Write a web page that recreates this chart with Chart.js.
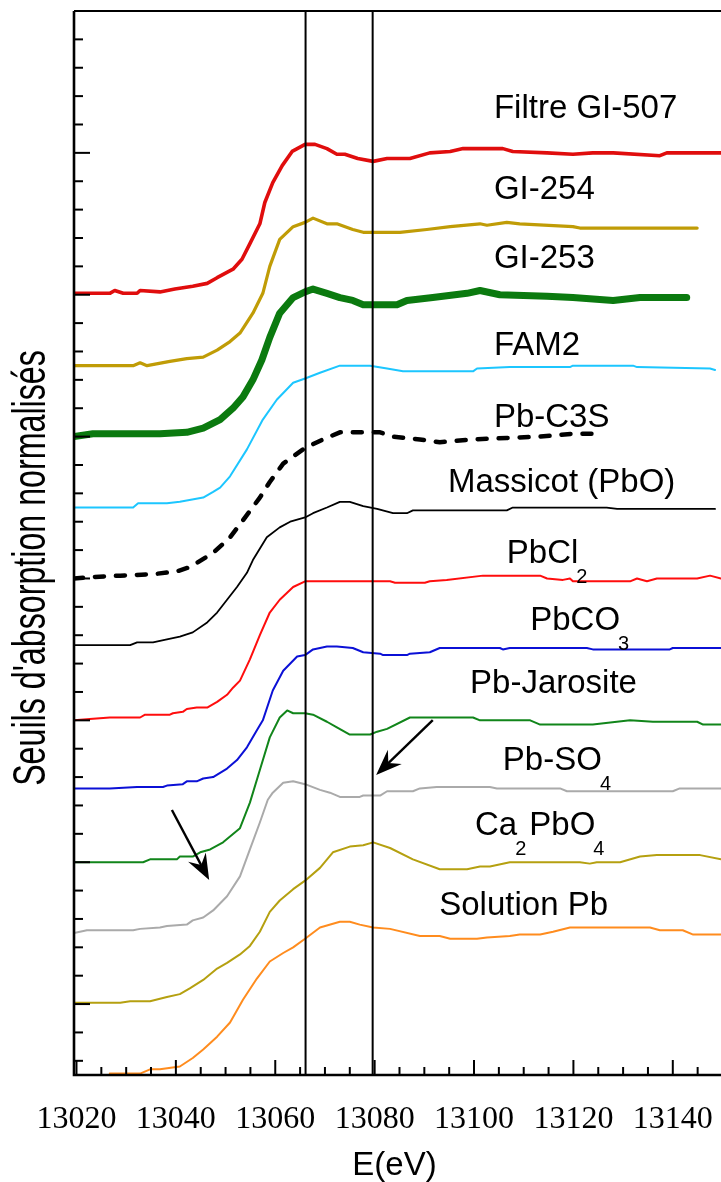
<!DOCTYPE html>
<html>
<head>
<meta charset="utf-8">
<script src="https://cdn.jsdelivr.net/npm/chart.js@4.4.1/dist/chart.umd.min.js"></script>
<style>
  html, body { margin: 0; padding: 0; background: #fff; }
</style>
</head>
<body>
<canvas id="xanesChart" width="721" height="1182"></canvas>
<script>
// --- data (energy in eV, normalised absorption + offset) ---
const filtreE = [13019.5, 13026.7, 13027.7, 13029.4, 13032.2, 13032.8, 13036.8, 13039.8, 13043.4, 13046.3, 13048.3, 13051.5, 13053.3, 13054.9, 13056.9, 13057.9, 13059.5, 13061.4, 13063.4, 13066.0, 13068.0, 13070.4, 13072.4, 13074.0, 13076.6, 13079.7, 13082.5, 13087.1, 13091.1, 13095.2, 13097.8, 13105.8, 13107.8, 13114.7, 13119.9, 13123.9, 13128.0, 13137.4, 13138.8, 13149.7];
const filtreY = [5.51, 5.51, 5.53, 5.51, 5.51, 5.53, 5.52, 5.54, 5.56, 5.58, 5.62, 5.68, 5.75, 5.86, 6.00, 6.15, 6.29, 6.41, 6.51, 6.56, 6.56, 6.53, 6.49, 6.49, 6.46, 6.44, 6.46, 6.46, 6.50, 6.51, 6.53, 6.53, 6.51, 6.50, 6.49, 6.50, 6.50, 6.48, 6.50, 6.50];

const gi254E = [13019.5, 13031.4, 13032.8, 13034.2, 13038.8, 13042.2, 13045.5, 13048.3, 13050.9, 13052.9, 13055.5, 13057.5, 13058.9, 13060.9, 13063.6, 13066.0, 13067.6, 13070.4, 13072.4, 13075.6, 13077.7, 13082.5, 13085.1, 13090.5, 13095.2, 13101.2, 13102.6, 13106.6, 13109.2, 13119.9, 13121.3, 13144.9];
const gi254Y = [5.00, 5.00, 5.02, 5.00, 5.03, 5.05, 5.06, 5.11, 5.17, 5.23, 5.37, 5.51, 5.70, 5.89, 5.98, 6.01, 6.04, 6.00, 6.00, 5.96, 5.94, 5.94, 5.94, 5.96, 5.98, 6.00, 5.99, 6.01, 6.00, 5.98, 5.97, 5.97];

const gi253E = [13019.5, 13023.3, 13036.8, 13042.2, 13045.5, 13048.9, 13051.5, 13053.5, 13055.5, 13057.3, 13058.9, 13060.9, 13063.6, 13066.0, 13067.6, 13070.4, 13073.0, 13075.6, 13077.7, 13084.5, 13086.5, 13089.1, 13091.7, 13098.6, 13101.2, 13105.2, 13114.7, 13119.9, 13128.0, 13133.4, 13142.8];
const gi253Y = [4.50, 4.52, 4.52, 4.53, 4.56, 4.62, 4.70, 4.78, 4.90, 5.04, 5.20, 5.37, 5.48, 5.52, 5.54, 5.51, 5.48, 5.46, 5.43, 5.43, 5.46, 5.47, 5.48, 5.51, 5.53, 5.50, 5.49, 5.48, 5.46, 5.48, 5.48];

const fam2E = [13019.5, 13031.4, 13032.4, 13038.2, 13040.8, 13045.5, 13047.5, 13048.9, 13050.9, 13054.3, 13057.5, 13060.3, 13063.6, 13066.0, 13069.0, 13073.0, 13079.1, 13082.5, 13085.7, 13099.8, 13100.6, 13107.2, 13119.3, 13119.9, 13132.0, 13132.8, 13147.5, 13148.5];
const fam2Y = [4.00, 4.00, 4.03, 4.03, 4.04, 4.07, 4.11, 4.14, 4.22, 4.41, 4.62, 4.76, 4.88, 4.91, 4.95, 5.00, 5.00, 4.98, 4.96, 4.96, 4.98, 4.99, 4.99, 5.00, 5.00, 4.99, 4.98, 4.97];

const pbc3sE = [13019.5, 13023.3, 13028.8, 13035.4, 13040.2, 13042.8, 13047.5, 13050.9, 13053.5, 13056.9, 13058.9, 13061.6, 13066.0, 13069.6, 13073.0, 13077.0, 13081.1, 13083.7, 13089.1, 13093.1, 13099.8, 13106.6, 13113.3, 13119.9, 13124.0];
const pbc3sY = [3.50, 3.51, 3.52, 3.53, 3.55, 3.58, 3.68, 3.79, 3.91, 4.07, 4.18, 4.31, 4.42, 4.48, 4.53, 4.53, 4.53, 4.50, 4.48, 4.46, 4.48, 4.49, 4.50, 4.52, 4.52];

const massicotE = [13019.5, 13030.8, 13032.2, 13035.4, 13038.2, 13040.8, 13043.4, 13046.3, 13048.3, 13050.3, 13052.3, 13054.3, 13055.5, 13058.3, 13060.9, 13063.0, 13066.0, 13067.6, 13070.4, 13073.0, 13075.0, 13077.7, 13080.5, 13083.7, 13086.5, 13087.7, 13106.6, 13107.8, 13115.9, 13118.7, 13126.7, 13128.8, 13148.5];
const massicotY = [3.03, 3.03, 3.05, 3.05, 3.07, 3.09, 3.12, 3.19, 3.26, 3.35, 3.44, 3.54, 3.63, 3.79, 3.86, 3.90, 3.93, 3.96, 4.00, 4.04, 4.04, 4.01, 3.99, 3.96, 3.96, 3.98, 3.98, 4.00, 4.00, 4.00, 4.00, 3.99, 3.99];

const pbcl2E = [13019.5, 13022.7, 13026.7, 13032.8, 13033.8, 13038.8, 13039.4, 13041.4, 13042.2, 13044.2, 13046.3, 13048.3, 13050.3, 13051.5, 13052.9, 13054.9, 13056.9, 13058.9, 13060.9, 13063.6, 13066.0, 13083.1, 13084.1, 13090.1, 13091.1, 13094.5, 13101.8, 13113.3, 13114.7, 13117.9, 13119.3, 13119.9, 13131.4, 13132.8, 13134.8, 13136.8, 13144.9, 13147.5, 13149.7];
const pbcl2Y = [2.50, 2.51, 2.52, 2.52, 2.54, 2.54, 2.55, 2.56, 2.58, 2.59, 2.59, 2.63, 2.68, 2.73, 2.78, 2.93, 3.10, 3.26, 3.35, 3.44, 3.48, 3.48, 3.47, 3.47, 3.48, 3.49, 3.52, 3.52, 3.50, 3.49, 3.50, 3.48, 3.48, 3.50, 3.48, 3.50, 3.50, 3.52, 3.50];

const pbco3E = [13019.5, 13026.7, 13032.2, 13037.4, 13038.2, 13041.4, 13042.2, 13044.2, 13045.5, 13047.5, 13050.3, 13052.3, 13054.3, 13056.3, 13057.5, 13059.5, 13061.6, 13064.4, 13066.0, 13067.6, 13070.4, 13072.4, 13075.6, 13077.7, 13081.1, 13081.7, 13086.5, 13087.1, 13091.1, 13093.1, 13105.2, 13105.8, 13107.2, 13122.7, 13123.9, 13139.4, 13140.0, 13149.7];
const pbco3Y = [2.02, 2.02, 2.03, 2.03, 2.04, 2.05, 2.07, 2.07, 2.09, 2.10, 2.16, 2.22, 2.31, 2.43, 2.50, 2.71, 2.85, 2.95, 2.96, 3.00, 3.02, 3.02, 3.01, 2.98, 2.97, 2.96, 2.96, 2.97, 2.98, 3.01, 3.01, 3.00, 3.01, 3.01, 3.00, 3.00, 3.01, 3.01];

const jarositeE = [13019.5, 13033.4, 13034.8, 13040.2, 13040.8, 13043.4, 13044.9, 13046.9, 13049.5, 13052.9, 13054.9, 13056.9, 13058.9, 13060.9, 13062.4, 13063.6, 13066.0, 13067.6, 13070.4, 13072.4, 13075.0, 13079.1, 13080.5, 13082.5, 13087.1, 13099.8, 13101.2, 13111.3, 13113.3, 13123.9, 13131.4, 13136.0, 13144.9, 13146.1, 13149.7];
const jarositeY = [1.50, 1.50, 1.52, 1.52, 1.54, 1.54, 1.57, 1.59, 1.64, 1.74, 1.92, 2.15, 2.38, 2.52, 2.57, 2.55, 2.55, 2.54, 2.49, 2.45, 2.40, 2.40, 2.42, 2.44, 2.52, 2.52, 2.50, 2.50, 2.47, 2.47, 2.50, 2.49, 2.49, 2.47, 2.47];

const pbso4E = [13019.5, 13022.1, 13031.4, 13032.8, 13036.8, 13038.2, 13042.2, 13043.4, 13045.5, 13047.5, 13050.3, 13052.9, 13054.9, 13056.9, 13058.5, 13059.5, 13061.6, 13063.6, 13066.0, 13069.0, 13071.0, 13073.0, 13077.0, 13077.7, 13081.1, 13082.5, 13087.7, 13089.1, 13092.5, 13103.2, 13104.6, 13117.3, 13118.7, 13140.0, 13141.4, 13149.7];
const pbso4Y = [1.00, 1.02, 1.02, 1.03, 1.04, 1.05, 1.06, 1.09, 1.11, 1.16, 1.26, 1.40, 1.59, 1.78, 1.94, 1.99, 2.06, 2.07, 2.05, 2.01, 1.99, 1.96, 1.96, 1.97, 1.97, 2.00, 2.00, 2.02, 2.03, 2.03, 2.02, 2.02, 2.00, 2.00, 2.02, 2.02];

const ca2pbo4E = [13019.5, 13028.8, 13030.8, 13034.8, 13038.2, 13040.8, 13042.8, 13045.5, 13048.3, 13050.3, 13052.9, 13054.9, 13056.9, 13058.9, 13060.9, 13063.6, 13066.0, 13069.0, 13071.6, 13075.0, 13077.7, 13079.7, 13083.1, 13087.7, 13093.1, 13098.6, 13101.2, 13103.2, 13107.2, 13121.3, 13123.3, 13124.7, 13129.4, 13133.4, 13136.8, 13145.5, 13149.7];
const ca2pbo4Y = [0.51, 0.51, 0.52, 0.52, 0.55, 0.57, 0.61, 0.67, 0.75, 0.79, 0.85, 0.91, 1.01, 1.15, 1.23, 1.31, 1.37, 1.46, 1.57, 1.61, 1.62, 1.64, 1.60, 1.52, 1.45, 1.45, 1.47, 1.47, 1.50, 1.50, 1.49, 1.50, 1.50, 1.54, 1.55, 1.55, 1.52];

const solutionE = [13026.7, 13032.8, 13034.8, 13036.8, 13040.8, 13043.4, 13045.5, 13048.3, 13050.9, 13053.5, 13056.3, 13058.9, 13061.6, 13063.6, 13066.0, 13069.0, 13073.0, 13075.0, 13077.0, 13079.7, 13083.1, 13089.1, 13093.1, 13095.2, 13100.6, 13102.6, 13107.2, 13109.2, 13113.3, 13115.9, 13119.3, 13135.4, 13137.4, 13142.0, 13144.1, 13149.7];
const solutionY = [0.01, 0.01, 0.04, 0.04, 0.06, 0.12, 0.18, 0.27, 0.37, 0.53, 0.68, 0.80, 0.86, 0.90, 0.96, 1.04, 1.08, 1.08, 1.06, 1.04, 1.03, 0.98, 0.98, 0.96, 0.96, 0.97, 0.98, 0.99, 0.99, 1.01, 1.04, 1.04, 1.02, 1.02, 0.99, 0.99];

// reference energies (vertical lines)
const markerLines = [13066.1, 13079.6];

// axis ticks
const xTickValues = [13020, 13040, 13060, 13080, 13100, 13120, 13140];
const xTickLabels = ['13020', '13040', '13060', '13080', '13100', '13120', '13140'];

// curve labels: [text, subscript?] parts, anchored at (energy, value) of left/baseline
const curveLabels = [
    { parts: [['Filtre GI-507', false]], e: 13104.0, y: 6.746 },
    { parts: [['GI-254', false]], e: 13104.0, y: 6.175 },
    { parts: [['GI-253', false]], e: 13104.0, y: 5.688 },
    { parts: [['FAM2', false]], e: 13104.0, y: 5.075 },
    { parts: [['Pb-C3S', false]], e: 13104.0, y: 4.568 },
    { parts: [['Massicot (PbO)', false]], e: 13094.75, y: 4.109 },
    { parts: [['PbCl', false], ['2', true]], e: 13106.6, y: 3.609 },
    { parts: [['PbCO', false], ['3', true]], e: 13111.3, y: 3.137 },
    { parts: [['Pb-Jarosite', false]], e: 13099.2, y: 2.693 },
    { parts: [['Pb-SO', false], ['4', true]], e: 13105.8, y: 2.150 },
    { parts: [['Ca', false], ['2', true], ['PbO', false], ['4', true]], e: 13100.2, y: 1.692 },
    { parts: [['Solution Pb', false]], e: 13093.0, y: 1.128 }
];

// arrows: from (e0,y0) to tip (e1,y1)
const arrows = [
    { e0: 13039.2, y0: 1.868, e1: 13046.7, y1: 1.374 },
    { e0: 13091.7, y0: 2.502, e1: 13080.3, y1: 2.115 }
];

const zip = (es, ys) => es.map((e, i) => ({ x: e, y: ys[i] }));

const series = [
    { label: 'Filtre GI-507', e: filtreE, y: filtreY, color: '#e00d0d', width: 3.6 },
    { label: 'GI-254', e: gi254E, y: gi254Y, color: '#c09c06', width: 3.2 },
    { label: 'GI-253', e: gi253E, y: gi253Y, color: '#0b7a0f', width: 7 },
    { label: 'FAM2', e: fam2E, y: fam2Y, color: '#1cc6ff', width: 2 },
    { label: 'Pb-C3S', e: pbc3sE, y: pbc3sY, color: '#000000', width: 4.5, dash: [9, 12] },
    { label: 'Massicot (PbO)', e: massicotE, y: massicotY, color: '#000000', width: 1.8 },
    { label: 'PbCl2', e: pbcl2E, y: pbcl2Y, color: '#ff0d0d', width: 2 },
    { label: 'PbCO3', e: pbco3E, y: pbco3Y, color: '#0b10d6', width: 2 },
    { label: 'Pb-Jarosite', e: jarositeE, y: jarositeY, color: '#11851a', width: 2 },
    { label: 'Pb-SO4', e: pbso4E, y: pbso4Y, color: '#aaaaaa', width: 2 },
    { label: 'Ca2PbO4', e: ca2pbo4E, y: ca2pbo4Y, color: '#b5a010', width: 2 },
    { label: 'Solution Pb', e: solutionE, y: solutionY, color: '#ff8c1e', width: 2 }
];

const datasets = markerLines.map(e => ({
    label: 'E = ' + e,
    data: [{ x: e, y: 0 }, { x: e, y: 7.5 }],
    borderColor: '#000', borderWidth: 2
})).concat(series.map(s => ({
    label: s.label,
    data: zip(s.e, s.y),
    borderColor: s.color,
    borderWidth: s.width,
    borderDash: s.dash || []
})));

// axes, ticks, titles, curve names and arrows
const framePlugin = {
    id: 'framePlugin',
    afterDatasetsDraw(chart) {
        const { ctx, chartArea: a, scales: { x, y } } = chart;
        ctx.save();
        ctx.strokeStyle = '#000';
        ctx.fillStyle = '#000';

        // frame
        ctx.lineWidth = 2;
        ctx.beginPath();
        ctx.moveTo(a.left, a.top);
        ctx.lineTo(a.right, a.top);
        ctx.stroke();
        ctx.lineWidth = 2.6;
        ctx.beginPath();
        ctx.moveTo(a.left, a.top);
        ctx.lineTo(a.left, a.bottom);
        ctx.lineTo(a.right, a.bottom);
        ctx.stroke();

        // x ticks (inward), every 5 eV, major every 20
        ctx.lineWidth = 2;
        for (let v = 13020; v <= x.max; v += 5) {
            const px = x.getPixelForValue(v);
            const major = (v - 13020) % 20 === 0;
            ctx.beginPath();
            ctx.moveTo(px, a.bottom);
            ctx.lineTo(px, a.bottom - (major ? 15 : 8));
            ctx.stroke();
        }
        // y ticks (inward), every 0.2, major at .5
        for (let i = 1; i <= 75; i += 2) {
            const py = y.getPixelForValue(i / 10);
            const major = (i - 5) % 10 === 0;
            ctx.beginPath();
            ctx.moveTo(a.left, py);
            ctx.lineTo(a.left + (major ? 16 : 9), py);
            ctx.stroke();
        }

        // x tick labels
        ctx.font = '32px "Liberation Serif", "Times New Roman", serif';
        ctx.textAlign = 'center';
        ctx.textBaseline = 'alphabetic';
        xTickValues.forEach((v, i) => {
            ctx.fillText(xTickLabels[i], x.getPixelForValue(v), a.bottom + 53);
        });

        // axis titles
        ctx.font = '33px "Liberation Sans", Arial, sans-serif';
        ctx.fillText('E(eV)', (a.left + a.right) / 2 - 3, a.bottom + 100);

        ctx.save();
        ctx.translate(45, (a.top + a.bottom) / 2 + 25);
        ctx.rotate(-Math.PI / 2);
        ctx.scale(0.7, 1);
        ctx.font = '46px "Liberation Sans", Arial, sans-serif';
        ctx.fillText("Seuils d'absorption normalisés", 0, 0);
        ctx.restore();

        // curve names
        ctx.textAlign = 'left';
        curveLabels.forEach(lab => {
            let px = x.getPixelForValue(lab.e);
            const py = y.getPixelForValue(lab.y);
            lab.parts.forEach(([txt, sub], k) => {
                if (sub) {
                    ctx.font = '20px "Liberation Sans", Arial, sans-serif';
                    px -= 2;
                    ctx.fillText(txt, px, py + 20);
                    px += ctx.measureText(txt).width + 3;
                } else {
                    ctx.font = '33px "Liberation Sans", Arial, sans-serif';
                    ctx.fillText(txt, px, py);
                    px += ctx.measureText(txt).width;
                }
            });
        });

        // arrows
        arrows.forEach(ar => {
            const x0 = x.getPixelForValue(ar.e0), y0 = y.getPixelForValue(ar.y0);
            const x1 = x.getPixelForValue(ar.e1), y1 = y.getPixelForValue(ar.y1);
            const ang = Math.atan2(y1 - y0, x1 - x0);
            const head = 26, half = 10, notch = 17;
            const bx = x1 - notch * Math.cos(ang), by = y1 - notch * Math.sin(ang);
            ctx.lineWidth = 2.4;
            ctx.beginPath();
            ctx.moveTo(x0, y0);
            ctx.lineTo(bx, by);
            ctx.stroke();
            const cx = x1 - head * Math.cos(ang), cy = y1 - head * Math.sin(ang);
            ctx.beginPath();
            ctx.moveTo(x1, y1);
            ctx.lineTo(cx + half * Math.sin(ang), cy - half * Math.cos(ang));
            ctx.lineTo(bx, by);
            ctx.lineTo(cx - half * Math.sin(ang), cy + half * Math.cos(ang));
            ctx.closePath();
            ctx.fill();
        });

        ctx.restore();
    }
};

new Chart(document.getElementById('xanesChart'), {
    type: 'line',
    data: { datasets: datasets },
    options: {
        responsive: false,
        animation: false,
        layout: { padding: { left: 74, top: 11, right: 0, bottom: 107 } },
        plugins: { legend: { display: false }, tooltip: { enabled: false } },
        elements: {
            point: { radius: 0, hoverRadius: 0 },
            line: { tension: 0, borderJoinStyle: 'round', borderCapStyle: 'round', fill: false }
        },
        scales: {
            x: { type: 'linear', min: 13019.5, max: 13149.7, display: false },
            y: { type: 'linear', min: 0, max: 7.5, display: false }
        }
    },
    plugins: [framePlugin]
});
</script>
</body>
</html>
